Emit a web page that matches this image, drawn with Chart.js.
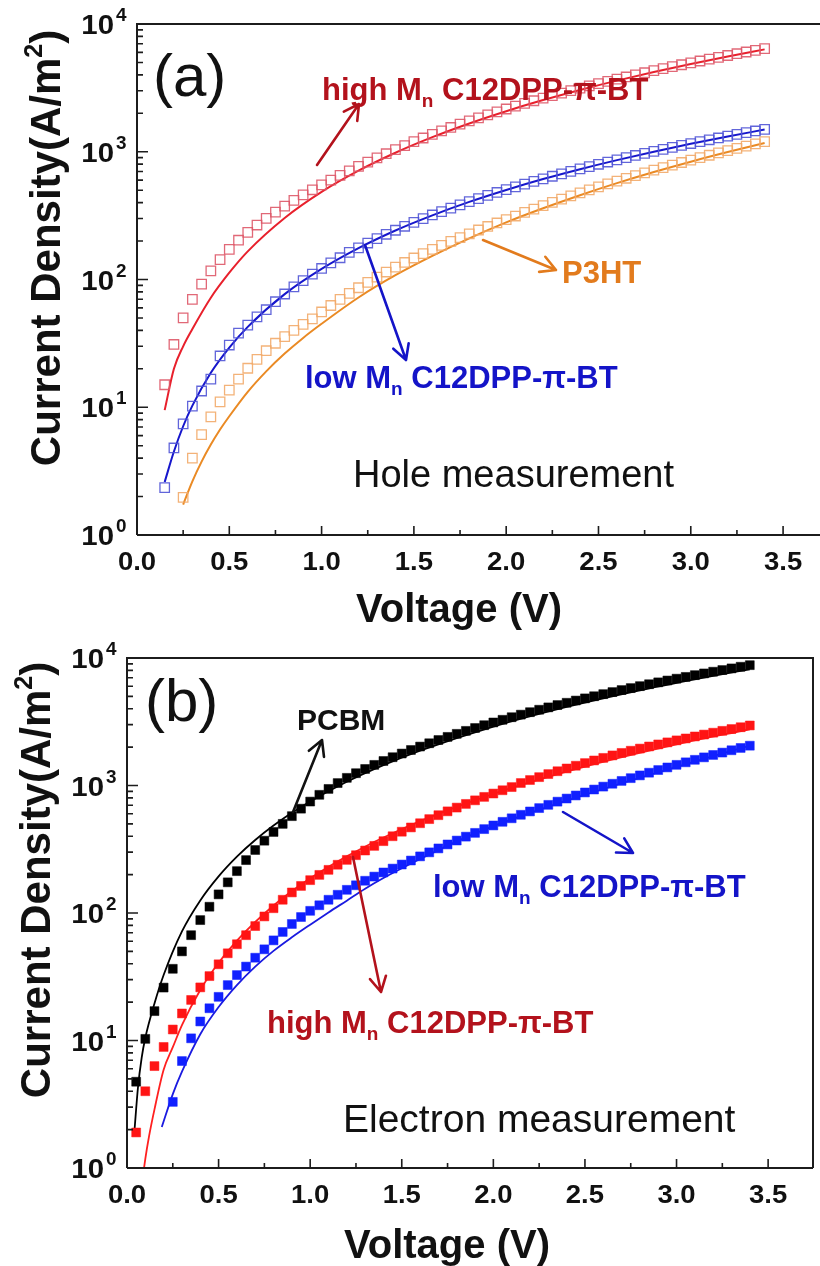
<!DOCTYPE html>
<html>
<head>
<meta charset="utf-8">
<script src="https://cdn.jsdelivr.net/npm/chart.js@4.4.1/dist/chart.umd.min.js"></script>
<style>
  body { margin: 0; background: #fff; width: 820px; height: 1266px; overflow: hidden; }
  .panel { position: absolute; left: 0; width: 820px; }
  #wrapA { top: 0; height: 640px; }
  #wrapB { top: 640px; height: 626px; }
</style>
</head>
<body>
<div class="panel" id="wrapA"><canvas id="chartA"></canvas></div>
<div class="panel" id="wrapB"><canvas id="chartB"></canvas></div>
<script>
'use strict';

// Voltage sweep of the measurements (V)
const sweep = [0.05, 0.1, 0.15, 0.2, 0.25, 0.3, 0.35, 0.4, 0.45, 0.5, 0.55, 0.6, 0.65, 0.7, 0.75, 0.8, 0.85, 0.9, 0.95, 1.0,
  1.05, 1.1, 1.15, 1.2, 1.25, 1.3, 1.35, 1.4, 1.45, 1.5, 1.55, 1.6, 1.65, 1.7, 1.75, 1.8, 1.85, 1.9, 1.95, 2.0,
  2.05, 2.1, 2.15, 2.2, 2.25, 2.3, 2.35, 2.4, 2.45, 2.5, 2.55, 2.6, 2.65, 2.7, 2.75, 2.8, 2.85, 2.9, 2.95, 3.0,
  3.05, 3.1, 3.15, 3.2, 3.25, 3.3, 3.35, 3.4];

// (a) Hole measurement, current density (A/m2)
const holeHighMn = [15, 31, 50, 70, 92, 117, 143, 172, 203, 234, 267, 301, 337, 375, 416, 459, 504, 551,
  600, 653, 709, 768, 830, 895, 965, 1039, 1118, 1200, 1281, 1368, 1457, 1549, 1644, 1742, 1842, 1946, 2053, 2161,
  2273, 2390, 2507, 2628, 2751, 2877, 3009, 3142, 3278, 3416, 3558, 3702, 3849, 4000, 4153, 4309, 4469, 4632, 4798, 4961,
  5133, 5308, 5485, 5667, 5851, 6038, 6221, 6415];           // from 0.15 V
const holeLowMn = [2.35, 4.8, 7.4, 10.2, 13.4, 16.6, 25.2, 30.7, 38, 44, 51, 58, 67, 77, 87.5, 98, 110, 122,
  135, 148, 163, 177, 193, 209, 226, 243, 261, 280, 300, 320, 340, 362, 384, 407, 430, 455, 480, 505,
  531, 558, 586, 614, 643, 672, 703, 734, 766, 798, 831, 865, 900, 935, 971, 1007, 1044, 1083, 1121, 1160,
  1200, 1241, 1282, 1324, 1367, 1411, 1454, 1499];           // from 0.15 V
const holeP3HT = [1.97, 4.0, 6.1, 8.4, 11, 13.6, 16.6, 20.2, 23.7, 27.7, 31.7, 35.7, 40, 44.5,
  49.2, 55.7, 62.6, 70, 77.9, 86.2, 95.1, 104.5, 114.4, 124.9, 135.9, 147.3, 159.4, 172, 185, 199, 213, 228, 244, 260, 277, 294,
  314, 335, 356, 379, 402, 426, 451, 477, 503, 531, 560, 589, 620, 651, 684, 717, 752, 787, 824, 861,
  900, 939, 980, 1022, 1064, 1108, 1153, 1200];               // from 0.25 V

// (a) fitted curves
const fitHoleHighV = [0.15, 0.2, 0.25, 0.3, 0.4, 0.5, 0.6, 0.8, 1.0, 1.2, 1.4, 1.6, 1.8, 2.0, 2.2, 2.4, 2.6, 2.8, 3.0, 3.2, 3.4];
const fitHoleHighJ = [9.5, 20, 30, 41, 72, 113, 166, 303, 485, 711, 982, 1300, 1665, 2077, 2538, 3046, 3604, 4210, 4867, 5573, 6330];
const fitHoleLowV = [0.15, 0.2, 0.25, 0.3, 0.4, 0.5, 0.6, 0.8, 1.0, 1.2, 1.4, 1.6, 1.8, 2.0, 2.2, 2.4, 2.6, 2.8, 3.0, 3.2, 3.4];
const fitHoleLowJ = [2.6, 4.5, 7.1, 10.3, 18.6, 29.3, 42.6, 76.8, 121, 176, 242, 318, 405, 502, 611, 730, 860, 1001, 1154, 1317, 1491];
const fitP3HTV = [0.25, 0.3, 0.35, 0.4, 0.45, 0.5, 0.6, 0.7, 0.8, 0.9, 1.0, 1.2, 1.4, 1.6, 1.8, 2.0, 2.2, 2.4, 2.6, 2.8, 3.0, 3.2, 3.4];
const fitP3HTJ = [1.73, 2.63, 3.75, 5.1, 6.69, 8.5, 13.2, 19.1, 26.3, 34.9, 45, 72.3, 108, 153, 210, 280, 361, 457, 568, 694, 836, 994, 1171];

// (b) Electron measurement, current density (A/m2)
const elecPCBM = [4.75, 10.3, 17, 26, 36.5, 50, 67, 88, 112, 140, 174, 213, 260, 312, 369, 432, 500, 575, 658, 748, 845, 940,
  1045, 1148, 1249, 1348, 1451, 1557, 1667, 1781, 1899, 2020, 2145, 2274, 2406, 2542, 2682, 2825, 2972, 3122,
  3276, 3433, 3595, 3760, 3928, 4100, 4276, 4455, 4638, 4824, 5014, 5208, 5405, 5605, 5809, 6017, 6229, 6443,
  6661, 6883, 7109, 7338, 7571, 7806, 8046, 8289, 8536, 8786];  // from 0.05 V
const elecHighMn = [1.9, 4.0, 6.3, 8.9, 12.2, 16.3, 20.8, 26.1, 32, 39.6, 48.3, 56.9, 67, 79, 94, 109, 127, 145, 163, 181,
  199, 218, 239, 261, 284, 309, 336, 366, 400, 434, 469, 506, 545, 585, 627, 671, 717, 765, 814, 865,
  918, 972, 1046, 1104, 1163, 1229, 1294, 1360, 1429, 1499, 1572, 1646, 1722, 1801, 1874, 1948, 2024, 2100,
  2179, 2259, 2340, 2425, 2509, 2595, 2684, 2773, 2865, 2957];    // from 0.05 V
const elecLowMn = [3.3, 6.9, 10.4, 14.1, 17.9, 22, 27.2, 32.6, 38, 44.6, 51.9, 61, 71, 82, 93, 104,
  115, 127, 139, 152, 165, 179, 193, 208, 223, 240, 258, 278, 299, 321, 345, 370, 397, 425, 455, 486,
  519, 553, 589, 626, 665, 705, 747, 790, 835, 882, 930, 980, 1032, 1086, 1142, 1200, 1260, 1322, 1386, 1452,
  1520, 1590, 1662, 1736, 1812, 1890, 1970, 2052];               // from 0.25 V

// (b) fitted curves
const fitPCBMV = [0.04, 0.06, 0.08, 0.1, 0.15, 0.2, 0.3, 0.4, 0.5, 0.6, 0.7, 0.8, 0.9, 1.0, 1.2, 1.4, 1.6, 2.0, 2.4, 2.8, 3.2, 3.4];
const fitPCBMJ = [1.9, 4.3, 7.3, 10.5, 19.5, 32.6, 71.7, 125.6, 194, 277, 374, 485, 611, 750, 1070, 1445, 1875, 2898, 4135, 5585, 7247, 8156];
const fitElecHighV = [0.08, 0.1, 0.12, 0.15, 0.2, 0.25, 0.3, 0.4, 0.5, 0.6, 0.8, 1.0, 1.2, 1.5, 2.0, 2.5, 3.0, 3.4];
const fitElecHighJ = [0.72, 1.18, 1.76, 2.88, 5.9, 8.86, 13.2, 24.9, 40.7, 60.8, 114.5, 187, 279, 456, 859, 1404, 2097, 2762];
const fitElecLowV = [0.19, 0.25, 0.3, 0.4, 0.5, 0.6, 0.7, 0.8, 0.9, 1.0, 1.1, 1.2, 1.3, 1.4, 1.6, 1.8, 2.0, 2.4, 2.8, 3.2, 3.4];
const fitElecLowJ = [2.1, 3.8, 5.7, 11.2, 18.3, 27.2, 38, 50.5, 64.5, 81, 101, 125, 155, 188, 265, 365, 480, 760, 1150, 1700, 2050];

const voltTicks = ['0.0', '0.5', '1.0', '1.5', '2.0', '2.5', '3.0', '3.5'];
const decades = [0, 1, 2, 3, 4];

const FONT = '"Liberation Sans", Arial, sans-serif';
const DARKRED = '#b3121c';
const BLUE = '#1414c8';
const ORANGE = '#e27b1d';

function pts(xs, ys) {
  return ys.map((y, i) => ({ x: xs[i], y: y }));
}

function markers(xs, ys, color, filled) {
  return {
    data: pts(xs, ys),
    showLine: false,
    pointStyle: 'rect',
    pointRadius: filled ? 6.3 : 6.7,
    pointBorderWidth: filled ? 0.5 : 1.3,
    pointBorderColor: color,
    pointBackgroundColor: filled ? color : 'rgba(0,0,0,0)',
    order: 0
  };
}

function fit(xs, ys, color, width) {
  return {
    data: pts(xs, ys),
    showLine: true,
    borderColor: color,
    borderWidth: width,
    pointRadius: 0,
    cubicInterpolationMode: 'monotone',
    clip: 0,
    order: 1
  };
}

// text helpers
function rich(ctx, x, y, size, weight, color, parts, align, angle) {
  ctx.save();
  ctx.translate(x, y);
  if (angle) ctx.rotate(angle);
  ctx.fillStyle = color;
  ctx.textBaseline = 'alphabetic';
  ctx.textAlign = 'left';
  let total = 0;
  parts.forEach(p => {
    ctx.font = weight + ' ' + Math.round(size * (p.s || 1)) + 'px ' + FONT;
    p.w = ctx.measureText(p.t).width;
    total += p.w;
  });
  let cx = align === 'center' ? -total / 2 : (align === 'right' ? -total : 0);
  parts.forEach(p => {
    ctx.font = weight + ' ' + Math.round(size * (p.s || 1)) + 'px ' + FONT;
    ctx.fillText(p.t, cx, (p.dy || 0) * size);
    cx += p.w;
  });
  ctx.restore();
}

function stretched(ctx, s, x, y, font, sx, align) {
  ctx.save();
  ctx.translate(x, y);
  ctx.scale(sx, 1);
  ctx.font = font;
  ctx.fillStyle = '#111';
  ctx.textAlign = align;
  ctx.textBaseline = 'alphabetic';
  ctx.fillText(s, 0, 0);
  ctx.restore();
}

function arrow(ctx, x1, y1, x2, y2, color) {
  const a = Math.atan2(y2 - y1, x2 - x1);
  const len = 17, spread = 0.5;
  ctx.save();
  ctx.strokeStyle = color;
  ctx.lineWidth = 2.6;
  ctx.lineCap = 'round';
  ctx.lineJoin = 'round';
  ctx.beginPath();
  ctx.moveTo(x1, y1);
  ctx.lineTo(x2, y2);
  ctx.moveTo(x2 - len * Math.cos(a - spread), y2 - len * Math.sin(a - spread));
  ctx.lineTo(x2, y2);
  ctx.lineTo(x2 - len * Math.cos(a + spread), y2 - len * Math.sin(a + spread));
  ctx.stroke();
  ctx.restore();
}

const mn = (prefix) => [{ t: prefix + 'M' }, { t: 'n', s: 0.62, dy: 0.22 }, { t: ' C12DPP-\u03c0-BT' }];

// axes, frame, tick labels, titles and notes
function decor(cfg) {
  return {
    id: 'decor',
    afterDraw(chart) {
      const { ctx, chartArea: ca } = chart;
      const xs = chart.scales.x, ys = chart.scales.y;
      ctx.save();
      ctx.strokeStyle = '#1c1c1c';
      ctx.lineWidth = 2;
      ctx.beginPath();
      ctx.moveTo(ca.left, ca.bottom); ctx.lineTo(ca.left, ca.top); ctx.lineTo(ca.right, ca.top);
      if (cfg.box) ctx.lineTo(ca.right, ca.bottom);
      ctx.moveTo(ca.left, ca.bottom); ctx.lineTo(ca.right, ca.bottom);
      ctx.stroke();

      // x ticks, inward
      ctx.lineWidth = 1.6;
      ctx.beginPath();
      for (let i = 1; i <= 14; i++) {
        const px = xs.getPixelForValue(i * 0.25);
        ctx.moveTo(px, ca.bottom);
        ctx.lineTo(px, ca.bottom - (i % 2 === 0 ? 9 : 5));
      }
      // y ticks, inward (log minors)
      decades.slice(0, 4).forEach(n => {
        for (let k = 1; k <= 9; k++) {
          const py = ys.getPixelForValue(k * Math.pow(10, n));
          ctx.moveTo(ca.left, py);
          ctx.lineTo(ca.left + (k === 1 ? 11 : 6), py);
        }
      });
      ctx.stroke();
      ctx.restore();

      voltTicks.forEach(t => {
        stretched(ctx, t, xs.getPixelForValue(parseFloat(t)), ca.bottom + 35,
          'bold 25px ' + FONT, 1.1, 'center');
      });
      decades.forEach(n => {
        const py = ys.getPixelForValue(Math.pow(10, n));
        stretched(ctx, '10', ca.left - 23, py + 10, 'bold 28px ' + FONT, 1.05, 'right');
        stretched(ctx, String(n), ca.left - 21, py - 3, 'bold 18px ' + FONT, 1.05, 'left');
      });

      // axis titles
      rich(ctx, cfg.yTitle[0], cfg.yTitle[1], 42, 'bold', '#111',
        [{ t: 'Current Density(A/m' }, { t: '2', s: 0.6, dy: -0.42 }, { t: ')' }], 'center', -Math.PI / 2);
      rich(ctx, cfg.xTitle[0], cfg.xTitle[1], 40, 'bold', '#111', [{ t: 'Voltage (V)' }], 'center');

      // panel letter and measurement type
      rich(ctx, cfg.letter[1], cfg.letter[2], 60, 'normal', '#111', [{ t: cfg.letter[0] }], 'left');
      rich(ctx, cfg.kind[1], cfg.kind[2], cfg.kind[3], 'normal', '#111', [{ t: cfg.kind[0] }], 'left');

      cfg.notes.forEach(n => {
        rich(ctx, n.x, n.y, n.size || 31, 'bold', n.color, n.parts, 'left');
        arrow(ctx, n.arrow[0], n.arrow[1], n.arrow[2], n.arrow[3], n.color);
      });
    }
  };
}

function baseOptions(xMax, top, right, xAxisH, yAxisW) {
  return {
    responsive: true,
    maintainAspectRatio: false,
    animation: false,
    layout: { autoPadding: false, padding: { top: top, right: right, left: 0, bottom: 0 } },
    plugins: { legend: { display: false }, tooltip: { enabled: false } },
    scales: {
      x: {
        type: 'linear', min: 0, max: xMax,
        ticks: { display: false }, grid: { display: false }, border: { display: false },
        afterFit: s => { s.height = xAxisH; }
      },
      y: {
        type: 'logarithmic', min: 1, max: 10000,
        ticks: { display: false }, grid: { display: false }, border: { display: false },
        afterFit: s => { s.width = yAxisW; }
      }
    }
  };
}

// Panel (a): hole-only devices
new Chart(document.getElementById('chartA'), {
  type: 'scatter',
  data: {
    datasets: [
      markers(sweep.slice(2), holeHighMn, 'rgba(222,88,104,0.9)', false),
      markers(sweep.slice(2), holeLowMn, 'rgba(80,84,214,0.9)', false),
      markers(sweep.slice(4), holeP3HT, 'rgba(242,170,105,0.9)', false),
      fit(fitHoleHighV, fitHoleHighJ, '#e8202c', 2),
      fit(fitHoleLowV, fitHoleLowJ, '#1616cc', 2),
      fit(fitP3HTV, fitP3HTJ, '#ea8a24', 2)
    ]
  },
  options: baseOptions(3.7, 24, 0, 105, 137),
  plugins: [decor({
    box: false,
    yTitle: [60, 248],
    xTitle: [459, 622],
    letter: ['(a)', 153, 96],
    kind: ['Hole measurement', 353, 487, 38],
    notes: [
      { parts: mn('high '), x: 322, y: 100, color: DARKRED, arrow: [317, 165, 359, 104] },
      { parts: mn('low '), x: 305, y: 388, color: BLUE, arrow: [365, 245, 406, 360] },
      { parts: [{ t: 'P3HT' }], x: 562, y: 283, color: ORANGE, arrow: [483, 240, 556, 270] }
    ]
  })]
});

// Panel (b): electron-only devices
new Chart(document.getElementById('chartB'), {
  type: 'scatter',
  data: {
    datasets: [
      markers(sweep, elecPCBM, '#000000', true),
      markers(sweep, elecHighMn, '#ff1414', true),
      markers(sweep.slice(4), elecLowMn, '#1020ff', true),
      fit(fitPCBMV, fitPCBMJ, '#000000', 1.8),
      fit(fitElecHighV, fitElecHighJ, '#ff2020', 1.8),
      fit(fitElecLowV, fitElecLowJ, '#1a1ae0', 1.8)
    ]
  },
  options: baseOptions(3.745, 18, 7, 98, 127),
  plugins: [decor({
    box: true,
    yTitle: [50, 240],
    xTitle: [447, 618],
    letter: ['(b)', 145, 81],
    kind: ['Electron measurement', 343, 492, 39],
    notes: [
      { parts: [{ t: 'PCBM' }], x: 297, y: 90, size: 30, color: '#111', arrow: [293, 172, 322, 100] },
      { parts: mn('high '), x: 267, y: 393, color: DARKRED, arrow: [353, 217, 381, 352] },
      { parts: mn('low '), x: 433, y: 257, color: BLUE, arrow: [563, 172, 633, 213] }
    ]
  })]
});
</script>
</body>
</html>
